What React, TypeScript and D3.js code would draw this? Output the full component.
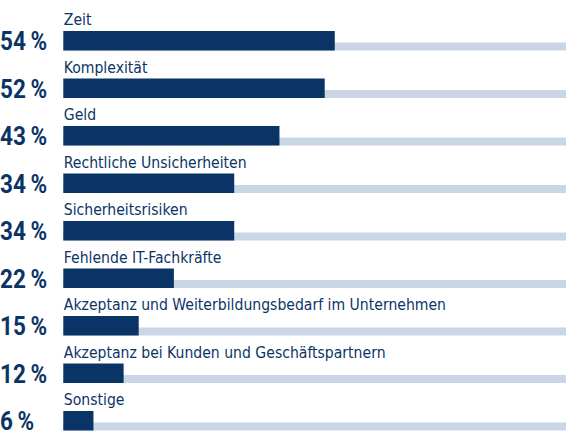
import React from "react";
import * as d3 from "d3";

const categories = [
  "Zeit",
  "Komplexität",
  "Geld",
  "Rechtliche Unsicherheiten",
  "Sicherheitsrisiken",
  "Fehlende IT-Fachkräfte",
  "Akzeptanz und Weiterbildungsbedarf im Unternehmen",
  "Akzeptanz bei Kunden und Geschäftspartnern",
  "Sonstige",
];
const values = [54, 52, 43, 34, 34, 22, 15, 12, 6];

const W = 576;
const H = 439;
const DARK = "#0b3466";
const TRACK = "#cad6e5";

export default function App() {
  const x = d3.scaleLinear().domain([0, 100]).range([63.3, 566]);
  const y = d3
    .scaleBand<number>()
    .domain(d3.range(categories.length))
    .range([31 - 47.5 + 19.5, 31 - 47.5 + 19.5 + 47.5 * categories.length])
    .paddingInner(0)
    .paddingOuter(0);
  const barH = 19.5;
  const trackH = 8;

  return (
    <svg
      width={W}
      height={H}
      style={{ position: "absolute", left: 0, top: 0, background: "#fff" }}
    >
      {categories.map((c, i) => {
        const bottom = (y(i) as number) + y.bandwidth();
        const top = bottom - barH;
        return (
          <g key={c}>
            <rect
              x={x(0)}
              y={bottom - trackH}
              width={x(100) - x(0)}
              height={trackH}
              fill={TRACK}
            />
            <rect
              x={x(0)}
              y={top}
              width={x(values[i]) - x(0)}
              height={barH}
              fill={DARK}
            />
            <text
              x={x(0) + 0.5}
              y={top - 6}
              fill={DARK}
              style={{
                fontFamily: "'DejaVu Sans Condensed', 'DejaVu Sans', sans-serif",
                fontSize: 15.6,
              }}
            >
              {c}
            </text>
            <text
              transform={`translate(0,${bottom - 0.5}) scale(0.9,1)`}
              fill={DARK}
              style={{
                fontFamily: "Roboto, sans-serif",
                fontSize: 25,
                fontWeight: 700,
              }}
            >
              {values[i]}
              <tspan dx={-1}>{" %"}</tspan>
            </text>
          </g>
        );
      })}
    </svg>
  );
}
